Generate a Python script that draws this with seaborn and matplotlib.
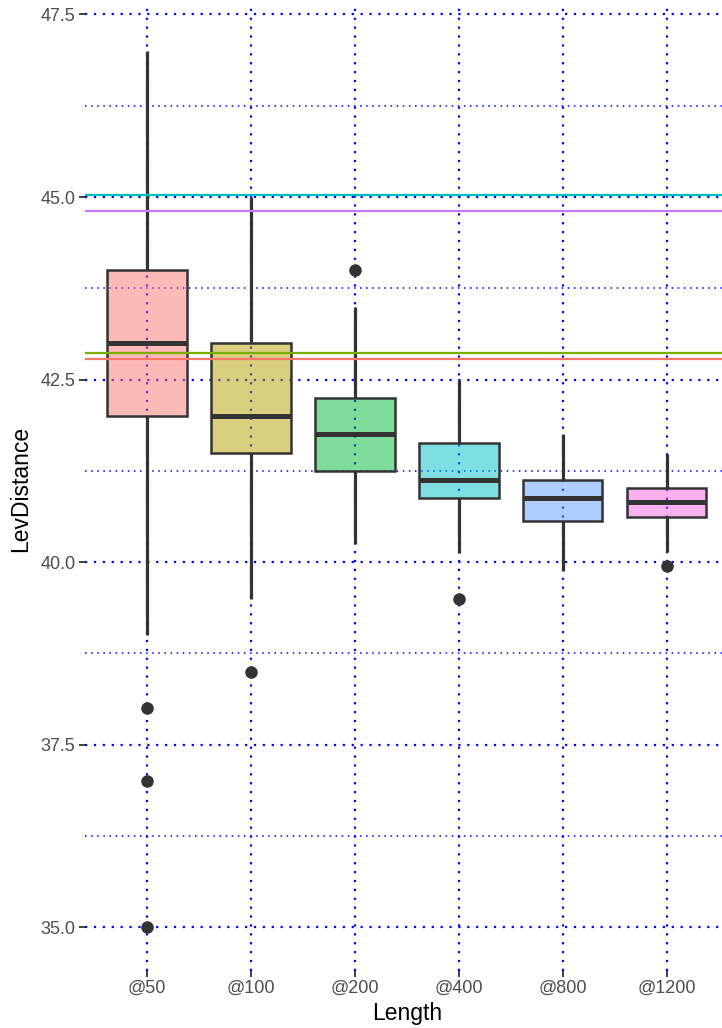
import matplotlib
matplotlib.use("Agg")
import matplotlib.pyplot as plt
import numpy as np
import pandas as pd
import seaborn as sns
from matplotlib.colors import to_rgba
from matplotlib.ticker import MultipleLocator, FormatStrFormatter

# Category order along the x axis
lengths = ["@50", "@100", "@200", "@400", "@800", "@1200"]

# Levenshtein distance samples per length
dist_50 = [35.0, 37.0, 38.0, 39.0, 42.0, 42.0, 42.0, 43.0, 43.0, 43.0, 43.0,
           44.0, 44.0, 44.0, 45.0, 46.0, 47.0]
dist_100 = [38.5, 39.5, 41.5, 41.5, 42.0, 42.5, 43.0, 44.0, 45.0]
dist_200 = [40.25, 41.0, 41.25, 41.5, 41.75, 42.0, 42.25, 43.5, 44.0]
dist_400 = [39.5, 40.125, 40.875, 41.0, 41.125, 41.375, 41.625, 42.0, 42.5]
dist_800 = [39.875, 40.25, 40.56, 40.75, 40.875, 41.0, 41.12, 41.5, 41.75]
dist_1200 = [39.95, 40.14, 40.62, 40.7, 40.82, 40.9, 41.01, 41.3, 41.48]

# Reference levels drawn as horizontal lines
ref_values = [42.78, 42.87, 45.03, 44.81]
ref_colors = ["#F8766D", "#7CAE00", "#00BFC4", "#C77CFF"]

box_colors = ["#F8766D", "#B79F00", "#00BA38", "#00BFC4", "#619CFF", "#F564E3"]

samples = [dist_50, dist_100, dist_200, dist_400, dist_800, dist_1200]
df = pd.DataFrame({
    "Length": np.repeat(lengths, [len(s) for s in samples]),
    "LevDistance": np.concatenate(samples),
})

sns.set_theme(style="white")
plt.rcParams["font.family"] = ["Liberation Sans", "DejaVu Sans"]

fig = plt.figure(figsize=(7.22, 10.28), dpi=100)
ax = fig.add_axes([0.1172, 0.0556, 0.893, 0.9374])

sns.boxplot(
    data=df, x="Length", y="LevDistance", hue="Length", order=lengths,
    hue_order=lengths, palette=box_colors, legend=False, width=0.76,
    linewidth=1.8, linecolor="#333333", showcaps=False,
    flierprops=dict(marker="o", markersize=8, markerfacecolor="#333333",
                    markeredgecolor="#333333"),
    medianprops=dict(linewidth=3.6, color="#333333"),
    whiskerprops=dict(linewidth=2.3, color="#333333", solid_capstyle="butt"),
    ax=ax,
)
# Boxes stay translucent so the grid shows through; whiskers sit on top
for patch, col in zip(ax.patches, box_colors):
    patch.set_facecolor(to_rgba(col, 0.5))
    patch.set_edgecolor("#333333")
    patch.set_zorder(3)
for line in ax.lines:
    line.set_zorder(4)

for v, c in zip(ref_values, ref_colors):
    ax.axhline(v, color=c, lw=1.6, zorder=6)

ax.set_xlim(-0.6, 5.6)
ax.set_ylim(34.4, 47.6)
ax.yaxis.set_major_locator(MultipleLocator(2.5))
ax.yaxis.set_minor_locator(MultipleLocator(1.25))
ax.yaxis.set_major_formatter(FormatStrFormatter("%.1f"))

ax.set_axisbelow(True)
ax.grid(which="major", axis="both", color="blue", linestyle=(0, (1, 3)),
        linewidth=1.6)
ax.grid(which="minor", axis="y", color="blue", linestyle=(0, (1, 3)),
        linewidth=1.1)
for gl in ax.get_xgridlines() + ax.get_ygridlines():
    gl.set_zorder(0.5)

for s in ax.spines.values():
    s.set_visible(False)

ax.tick_params(axis="both", which="major", length=4, width=1.3,
               color="#333333", labelsize=13, labelcolor="#4D4D4D", pad=2.5,
               bottom=True, left=True)
ax.tick_params(axis="y", which="minor", length=0)

ax.set_xlabel("Length", fontsize=16.5, color="black", labelpad=4)
ax.set_ylabel("LevDistance", fontsize=16.5, color="black", labelpad=6)

fig.savefig("out.png", dpi=100)
